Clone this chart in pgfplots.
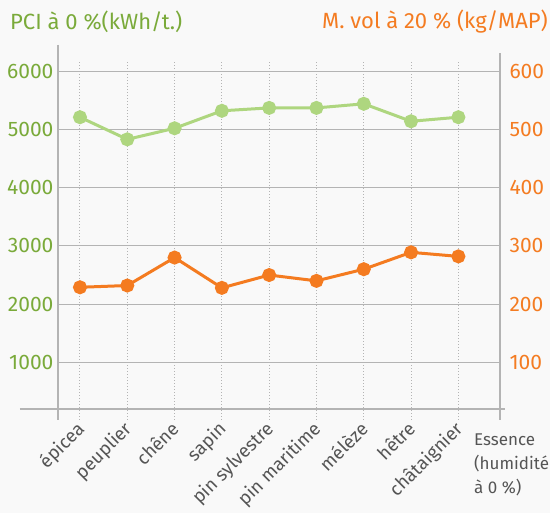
\documentclass[border=0pt]{standalone}
\usepackage{pgfplots}
\pgfplotsset{compat=1.18}
\usepackage{fontspec}
\setmainfont{Fira Sans}
\definecolor{bgc}{HTML}{F9F9F9}
\definecolor{gtxt}{HTML}{7AAA3A}
\definecolor{gline}{HTML}{AED67F}
\definecolor{otxt}{HTML}{F47C22}
\definecolor{oline}{HTML}{F47B20}
\definecolor{axc}{HTML}{B4B4B4}
\definecolor{labc}{HTML}{555555}

\pgfplotstableread{
x pci
0 5210
1 4830
2 5020
3 5320
4 5370
5 5370
6 5440
7 5140
8 5210
}\pcitab
\pgfplotstableread{
x mvol
0 229
1 232
2 280
3 228
4 250
5 240
6 260
7 289
8 282
}\mvoltab

\begin{document}
\begin{tikzpicture}[x=1pt,y=1pt]
\useasboundingbox (0,0) rectangle (550,513);
\fill[bgc] (0,0) rectangle (550,513);
\pgfplotsset{
  base/.style={
    at={(58pt,104pt)}, anchor=south west,
    scale only axis, width=442pt, height=364pt,
    xmin=-0.465, xmax=8.88,
    axis line style={draw=none},
    major tick length=0pt,
    /pgf/number format/assume math mode=true,
    clip=false,
  }
}
\begin{axis}[base,
    ymin=200, ymax=6450,
    ytick={1000,2000,...,6000},
    ymajorgrids, grid style={axc, line width=1pt},
    yticklabel style={font=\fontsize{21}{23}\selectfont, text=gtxt, xshift=-1pt},
    /pgf/number format/1000 sep={},
    xtick={0,...,8},
    xticklabels={épicea,peuplier,chêne,sapin,pin sylvestre,pin maritime,mélèze,hêtre,châtaignier},
    x tick label style={font=\fontsize{18.5}{21}\selectfont, text=labc, rotate=45, anchor=north east, yshift=-3pt, xshift=-10pt, inner sep=1pt},
  ]
  \pgfplotsinvokeforeach{0,...,8}{
    \draw[axc, dotted, line width=1pt] ({axis cs:#1,0} |- {rel axis cs:0,0.953}) -- ({axis cs:#1,0} |- {rel axis cs:0,-0.03});
  }
  \draw[axc, line width=1.5pt] (rel axis cs:-0.086,0) -- (rel axis cs:1.011,0);
  \draw[axc, line width=1.5pt] (rel axis cs:0,1) -- (rel axis cs:0,-0.03);
  \draw[axc, line width=1.5pt] (rel axis cs:1,0.978) -- (rel axis cs:1,-0.03);
  \addplot[gline, line width=3pt, mark=*, mark size=5.5pt, mark options={fill=gline, draw=gline}] table[x=x, y=pci] {\pcitab};
\end{axis}
\begin{axis}[base,
    ymin=20, ymax=645,
    axis y line*=right, axis x line=none,
    ytick={100,200,...,600},
    yticklabel style={font=\fontsize{21}{23}\selectfont, text=otxt, xshift=6pt},
  ]
  \addplot[oline, line width=3pt, mark=*, mark size=5.5pt, mark options={fill=oline, draw=oline}] table[x=x, y=mvol] {\mvoltab};
\end{axis}
\node[anchor=west, text=gtxt, font=\fontsize{22}{24}\selectfont, inner sep=0pt] at (10,491) {PCI à 0 \%(kWh/t.)};
\node[anchor=east, text=otxt, font=\fontsize{22}{24}\selectfont, inner sep=0pt] at (548,491) {M. vol à 20 \% (kg/MAP)};
\node[anchor=north west, align=left, text=labc, font=\fontsize{17}{24}\selectfont, inner sep=0pt] at (474,79) {Essence\\(humidité\\à 0 \%)};
\end{tikzpicture}
\end{document}
